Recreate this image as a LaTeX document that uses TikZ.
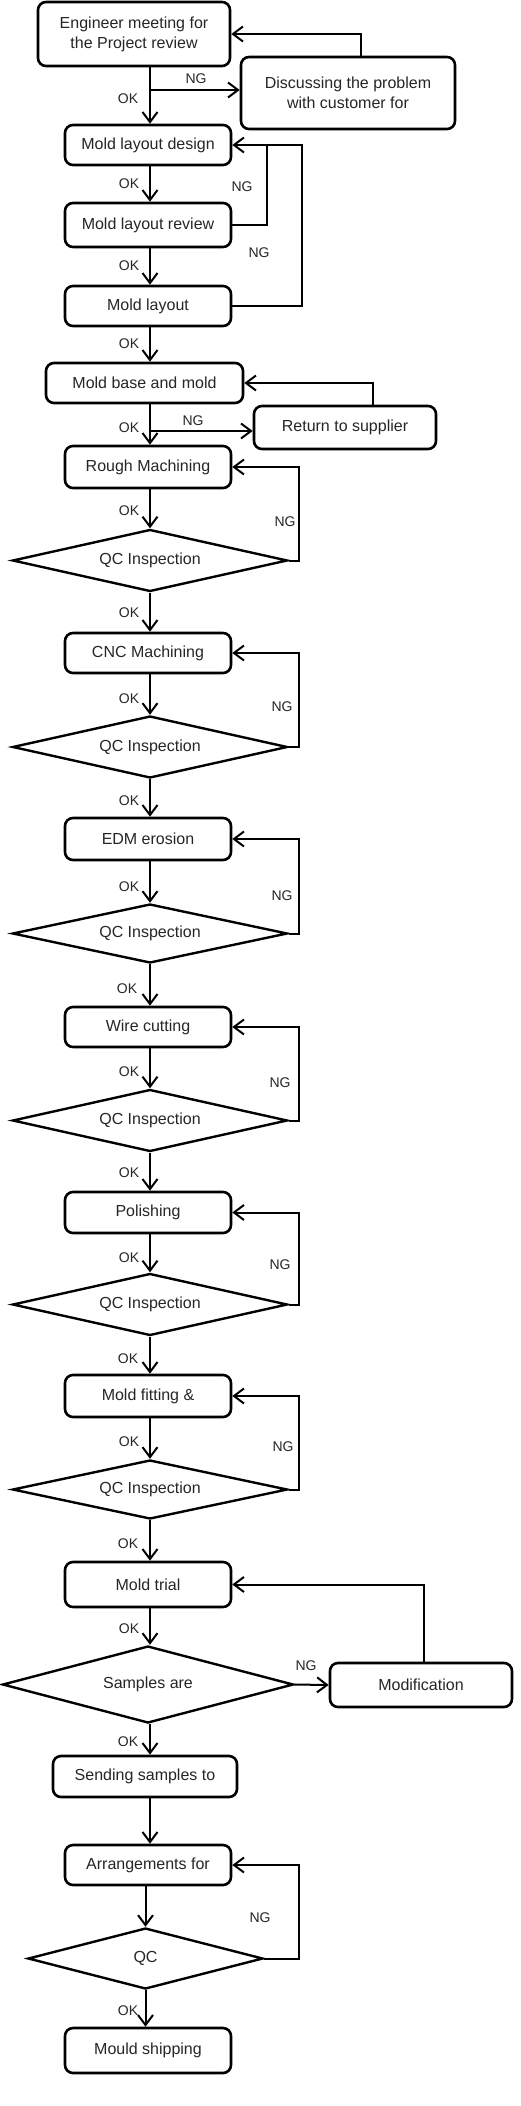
\documentclass[tikz,border=0pt]{standalone}
\usepackage{fontspec}
\setmainfont{Liberation Sans}
\usetikzlibrary{shapes.geometric,arrows.meta}
\begin{document}
\begin{tikzpicture}[x=1pt,y=-1pt,
 box/.style={draw, rounded corners=8pt, line width=2.6pt, text=black!85, font=\fontsize{16}{20}\selectfont, align=center, inner sep=0pt, minimum width=166pt, minimum height=40pt},
 dia/.style={draw, diamond, shape aspect=4, line width=2.4pt, text=black!85, font=\fontsize{16}{20}\selectfont, inner sep=0pt, minimum width=275pt, minimum height=62pt},
 lbl/.style={text=black!85, font=\fontsize{14}{16}\selectfont, inner sep=0pt},
 conn/.style={line width=2pt},
 arr/.style={conn, -{Straight Barb[length=10pt,width=15pt]}},
]
\useasboundingbox (0,0) rectangle (520,2106);
\fill[white] (0,0) rectangle (520,2106);

\coordinate (X) at (150,0);
\coordinate (R) at (299,0);
\coordinate (R1) at (267,0);
\coordinate (R2) at (302,0);

\node[box, minimum width=192pt, minimum height=64pt] (eng) at (134,34) {Engineer meeting for\\the Project review};
\node[box, minimum width=214pt, minimum height=72pt] (disc) at (348,93) {Discussing the problem\\with customer for};
\node[box] (mld) at (148,145) {Mold layout design};
\node[box, minimum height=44pt] (mlr) at (148,225) {Mold layout review};
\node[box] (ml) at (148,306) {Mold layout};
\node[box, minimum width=197pt] (mb) at (144.5,383) {Mold base and mold};
\node[box, minimum width=182pt, minimum height=43pt] (ret) at (345,427.5) {Return to supplier};
\node[box, minimum height=42pt] (rough) at (148,467) {Rough Machining};
\node[dia] (qc1) at (150,560.5) {QC Inspection};
\node[box] (cnc) at (148,653) {CNC Machining};
\node[dia] (qc2) at (150,747) {QC Inspection};
\node[box, minimum height=42pt] (edm) at (148,839) {EDM erosion};
\node[dia, minimum height=59pt] (qc3) at (150,933.5) {QC Inspection};
\node[box] (wire) at (148,1027) {Wire cutting};
\node[dia] (qc4) at (150,1120.5) {QC Inspection};
\node[box, minimum height=41pt] (pol) at (148,1212.5) {Polishing};
\node[dia] (qc5) at (150,1304.5) {QC Inspection};
\node[box, minimum height=42pt] (fit) at (148,1396) {Mold fitting \&};
\node[dia, minimum height=59pt] (qc6) at (150,1489.5) {QC Inspection};
\node[box, minimum height=45pt] (trial) at (148,1584.5) {Mold trial};
\node[dia, minimum width=291pt, minimum height=77pt] (samp) at (148,1684.5) {Samples are};
\node[box, minimum width=182pt, minimum height=44pt] (mod) at (421,1685) {Modification};
\node[box, minimum width=184pt, minimum height=41pt] (send) at (145,1776.5) {Sending samples to};
\node[box] (arrg) at (148,1865) {Arrangements for};
\node[dia, minimum width=235pt, minimum height=61pt] (qc7) at (145.5,1958.5) {QC};
\node[box, minimum height=45pt] (ship) at (148,2050.5) {Mould shipping};

% main flow
\foreach \a/\b in {eng/mld, mld/mlr, mlr/ml, ml/mb, mb/rough, rough/qc1, qc1/cnc, cnc/qc2, qc2/edm, edm/qc3, qc3/wire, wire/qc4, qc4/pol, pol/qc5, qc5/fit, fit/qc6, qc6/trial, trial/samp, samp/send, send/arrg}
  \draw[arr] (X |- \a.south) -- (X |- \b.north);
\draw[arr] (arrg.south -| qc7.north) -- (qc7.north);
\draw[arr] (qc7.south) -- (qc7.south |- ship.north);

% NG loops
\foreach \d/\b in {qc1/rough, qc2/cnc, qc3/edm, qc4/wire, qc5/pol, qc6/fit, qc7/arrg}
  \draw[arr] (\d.east) -| (R |- \b.east) -- (\b.east);

\coordinate (b1) at (150,90);
\draw[arr] (b1) -- (b1 -| disc.west);
\draw[arr] ([xshift=13pt]disc.north) |- (eng.east);
\draw[conn] (mlr.east) -| (R1 |- mld.east);
\draw[arr] (ml.east) -| (R2 |- mld.east) -- (mld.east);
\coordinate (b2) at (150,431);
\draw[arr] (b2) -- (b2 -| ret.west);
\draw[arr] ([xshift=28pt]ret.north) |- (mb.east);
\draw[arr] (samp.east) -- (mod.west);
\draw[arr] ([xshift=3pt]mod.north) |- (trial.east);

% labels
\foreach \n/\x/\y in {1/128/99, 2/129/184, 3/129/266, 4/129/344, 5/129/428, 6/129/511, 7/129/613, 8/129/699, 9/129/801, 10/129/887, 11/127/989, 12/129/1072, 13/129/1173, 14/129/1258, 15/128/1359, 16/129/1442, 17/128/1544, 18/129/1629, 19/128/1742, 20/128/2011}
  \node[lbl] (ok\n) at (\x,\y) {OK};
\foreach \n/\x/\y in {1/196/79, 2/242/187, 3/259/253, 4/193/421, 5/285/522, 6/282/707, 7/282/896, 8/280/1083, 9/280/1265, 10/283/1447, 11/306/1666, 12/260/1918}
  \node[lbl] (ng\n) at (\x,\y) {NG};
\end{tikzpicture}
\end{document}
